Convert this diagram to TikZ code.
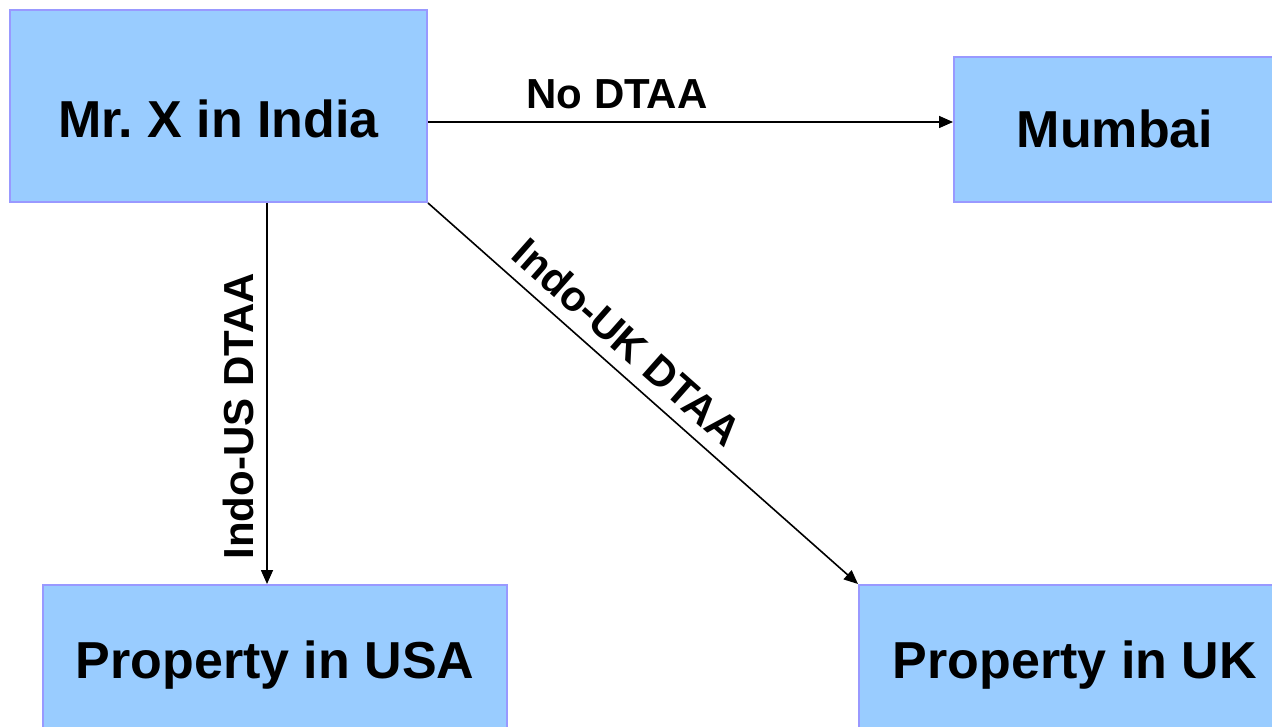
\documentclass[tikz,border=0pt]{standalone}
\usepackage{fontspec}
\setmainfont{Liberation Sans}
\usetikzlibrary{arrows.meta}
\definecolor{boxfill}{HTML}{99CCFF}
\definecolor{boxline}{HTML}{9999FF}
\tikzset{
  box/.style={draw=boxline, fill=boxfill, line width=2pt, inner sep=0pt,
    font=\fontsize{52}{60}\selectfont\bfseries, text height=37pt, text depth=0pt},
  arr/.style={line width=1.6pt, -{Triangle[length=14pt,width=12pt]}},
  lbl/.style={inner sep=0pt, font=\fontsize{42}{48}\selectfont\bfseries},
}
\begin{document}
\begin{tikzpicture}[x=1pt,y=-1pt]
\useasboundingbox (0,0) rectangle (1272,727);
\clip (0,0) rectangle (1272,727);
\node[box, minimum width=417pt, minimum height=192pt, text height=63pt] (india) at (218.5,106) {Mr.\ X in India};
\node[box, minimum width=322pt, minimum height=145pt] (mumbai) at (1115,129.5) {Mumbai};
\node[box, minimum width=464pt, minimum height=150pt] (usa) at (275,660) {Property in USA};
\node[box, minimum width=432pt, minimum height=150pt] (uk) at (1075,660) {Property in UK};
\draw[arr] ([yshift=-16pt]india.east) -- ([yshift=-16pt]india.east -| mumbai.west)
  node[lbl, pos=0.36, above=12pt] {No DTAA};
\draw[arr] ([xshift=48.5pt]india.south) -- ([xshift=48.5pt]india.south |- usa.north)
  node[lbl, pos=0.56, rotate=90, anchor=south, yshift=12pt] {Indo-US DTAA};
\draw[arr] (india.south east) -- (uk.north west)
  node[lbl, pos=0.42, sloped, above=12pt] {Indo-UK DTAA};
\end{tikzpicture}
\end{document}
